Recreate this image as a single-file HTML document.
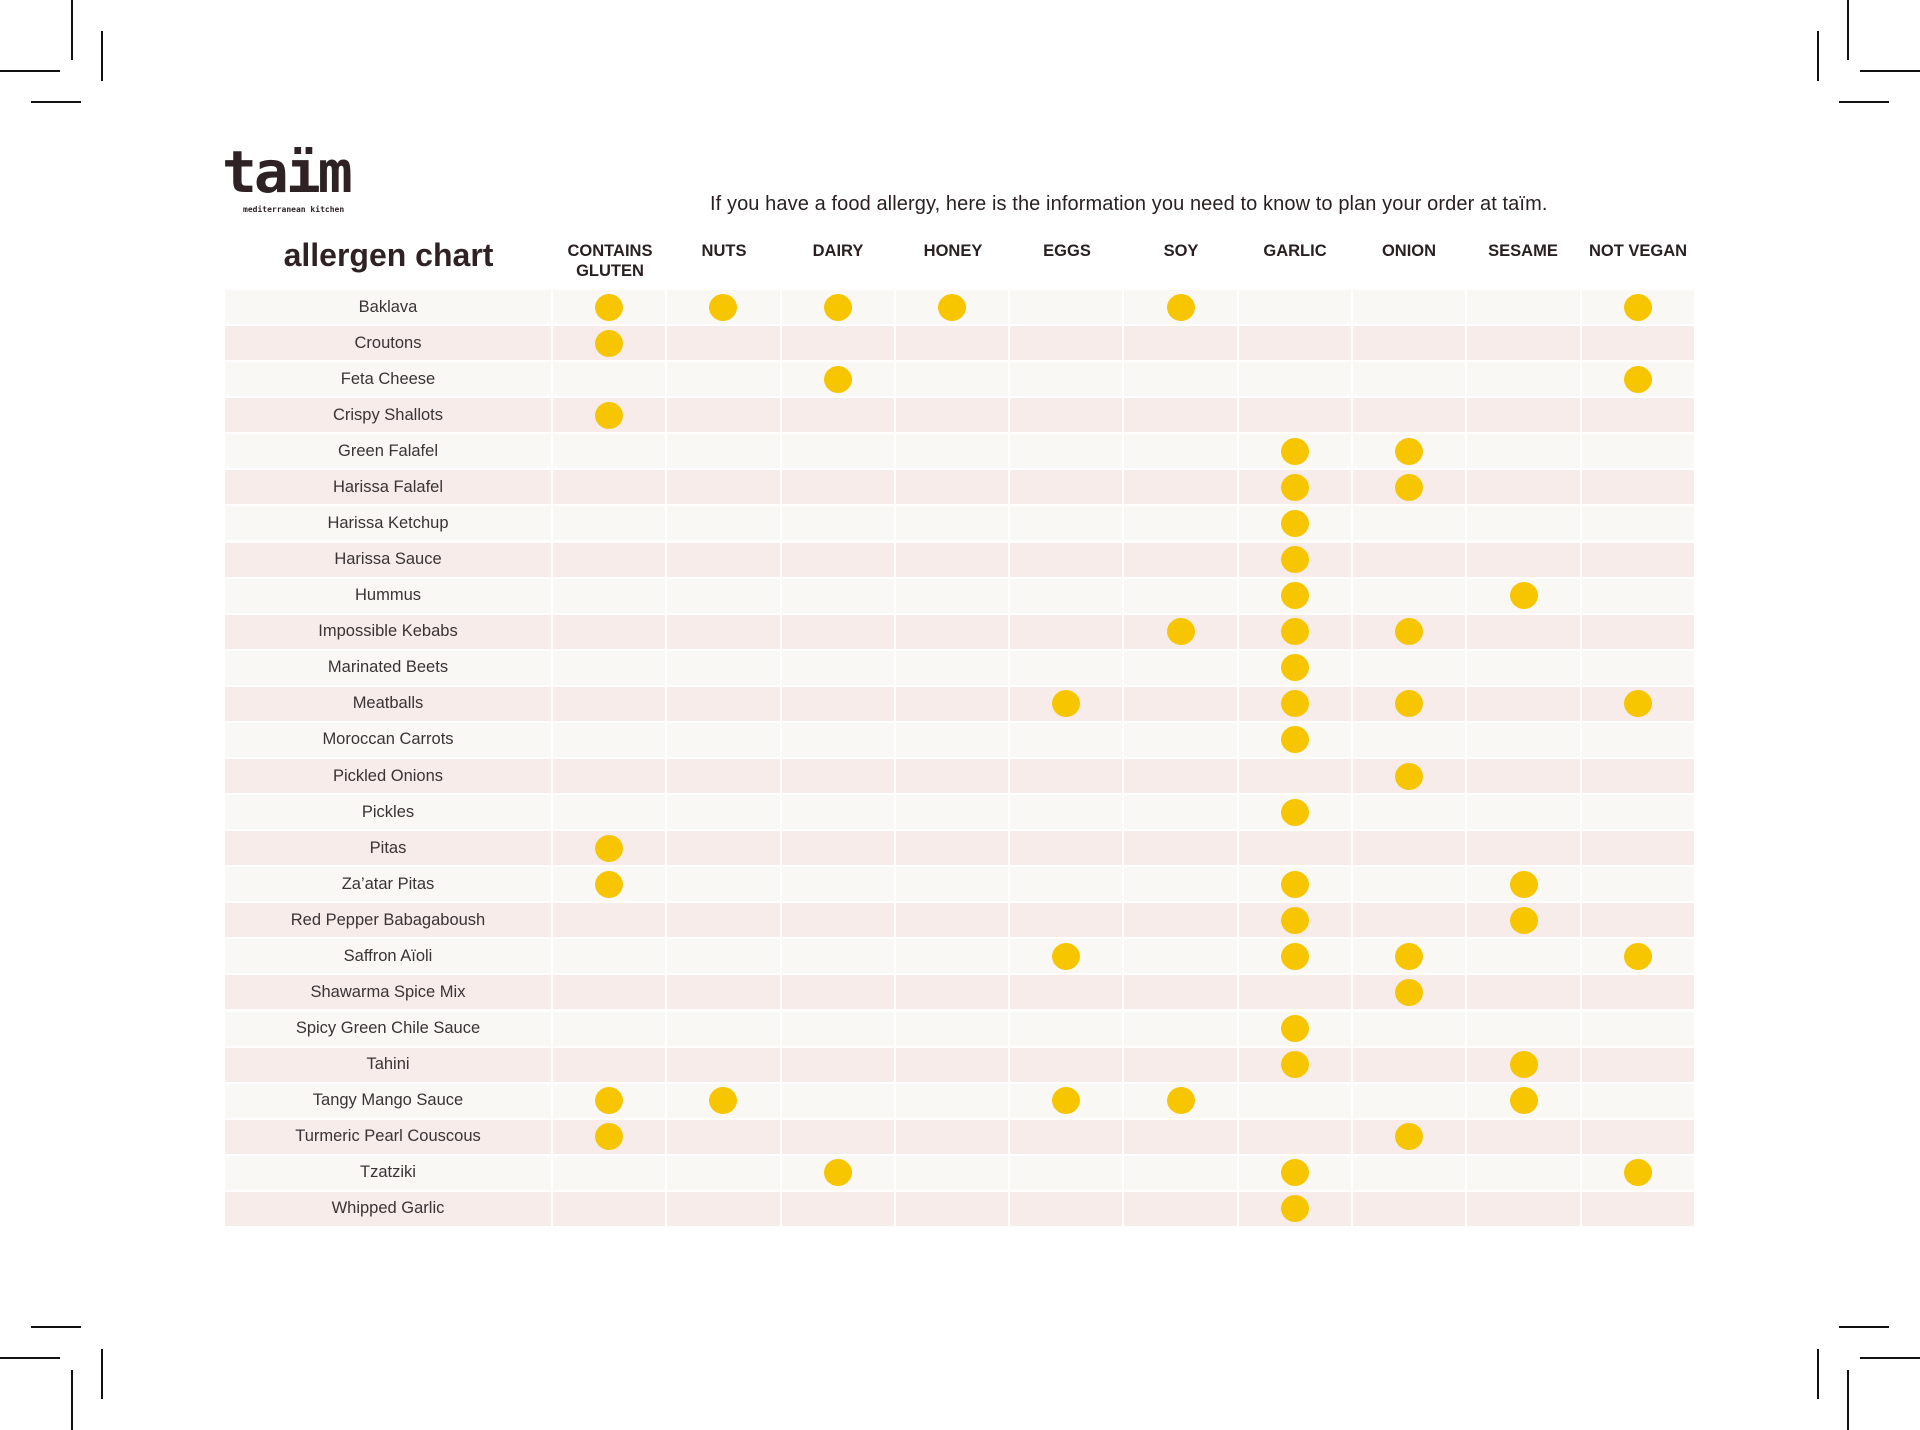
<!DOCTYPE html>
<html><head><meta charset="utf-8"><style>
html,body{margin:0;padding:0;background:#fff;}
body{width:1920px;height:1430px;position:relative;overflow:hidden;font-family:"Liberation Sans",sans-serif;color:#2a2022;}
.cm{position:absolute;background:#111;}
.logo{position:absolute;left:222px;top:143px;font-family:"DejaVu Sans Mono","Liberation Mono",monospace;font-weight:bold;font-size:58px;letter-spacing:-3px;color:#2e2224;line-height:1;}
.tag{position:absolute;left:243px;top:205px;font-family:"DejaVu Sans Mono",monospace;font-size:8px;color:#2e2224;font-weight:bold;}
.sub{position:absolute;left:710px;top:193px;font-size:20px;letter-spacing:0.1px;color:#2a2022;}
.title{position:absolute;left:225px;top:237px;width:327px;text-align:center;font-size:32px;font-weight:bold;color:#2e2224;}
.hd{position:absolute;top:241px;width:114px;text-align:center;font-size:16.5px;font-weight:bold;line-height:20px;color:#2a2022;}
.tbl{position:absolute;left:225px;top:290px;width:1469px;}
.r{display:grid;grid-template-columns:326px repeat(10,112.3px);column-gap:2px;height:34px;margin-bottom:2.08px;}
.r>*{background:#faf8f5;display:flex;align-items:center;justify-content:center;}
.r.p>*{background:#f7ecea;}
.r>span{font-size:16.5px;color:#3a3335;}
b{display:block;width:28px;height:27px;border-radius:50%;background:#f7c600;}
</style></head><body>
<div class="cm" style="left:71px;top:0;width:2px;height:60px"></div>
<div class="cm" style="left:0;top:70px;width:60px;height:2px"></div>
<div class="cm" style="left:101px;top:31px;width:2px;height:50px"></div>
<div class="cm" style="left:31px;top:101px;width:50px;height:2px"></div>
<div class="cm" style="left:1847px;top:0;width:2px;height:60px"></div>
<div class="cm" style="left:1860px;top:70px;width:60px;height:2px"></div>
<div class="cm" style="left:1817px;top:31px;width:2px;height:50px"></div>
<div class="cm" style="left:1839px;top:101px;width:50px;height:2px"></div>
<div class="cm" style="left:71px;top:1370px;width:2px;height:60px"></div>
<div class="cm" style="left:0;top:1357px;width:60px;height:2px"></div>
<div class="cm" style="left:101px;top:1349px;width:2px;height:50px"></div>
<div class="cm" style="left:31px;top:1326px;width:50px;height:2px"></div>
<div class="cm" style="left:1847px;top:1370px;width:2px;height:60px"></div>
<div class="cm" style="left:1860px;top:1357px;width:60px;height:2px"></div>
<div class="cm" style="left:1817px;top:1349px;width:2px;height:50px"></div>
<div class="cm" style="left:1839px;top:1326px;width:50px;height:2px"></div>

<div class="logo">taïm</div>
<div class="tag">mediterranean kitchen</div>
<div class="sub">If you have a food allergy, here is the information you need to know to plan your order at taïm.</div>
<div class="title">allergen chart</div>
<div class="hd" style="left:553px">CONTAINS<br>GLUTEN</div>
<div class="hd" style="left:667px">NUTS</div>
<div class="hd" style="left:781px">DAIRY</div>
<div class="hd" style="left:896px">HONEY</div>
<div class="hd" style="left:1010px">EGGS</div>
<div class="hd" style="left:1124px">SOY</div>
<div class="hd" style="left:1238px">GARLIC</div>
<div class="hd" style="left:1352px">ONION</div>
<div class="hd" style="left:1466px">SESAME</div>
<div class="hd" style="left:1580px;width:116px">NOT VEGAN</div>

<div class="tbl">
<div class="r"><span>Baklava</span><i><b></b></i><i><b></b></i><i><b></b></i><i><b></b></i><i></i><i><b></b></i><i></i><i></i><i></i><i><b></b></i></div>
<div class="r p"><span>Croutons</span><i><b></b></i><i></i><i></i><i></i><i></i><i></i><i></i><i></i><i></i><i></i></div>
<div class="r"><span>Feta Cheese</span><i></i><i></i><i><b></b></i><i></i><i></i><i></i><i></i><i></i><i></i><i><b></b></i></div>
<div class="r p"><span>Crispy Shallots</span><i><b></b></i><i></i><i></i><i></i><i></i><i></i><i></i><i></i><i></i><i></i></div>
<div class="r"><span>Green Falafel</span><i></i><i></i><i></i><i></i><i></i><i></i><i><b></b></i><i><b></b></i><i></i><i></i></div>
<div class="r p"><span>Harissa Falafel</span><i></i><i></i><i></i><i></i><i></i><i></i><i><b></b></i><i><b></b></i><i></i><i></i></div>
<div class="r"><span>Harissa Ketchup</span><i></i><i></i><i></i><i></i><i></i><i></i><i><b></b></i><i></i><i></i><i></i></div>
<div class="r p"><span>Harissa Sauce</span><i></i><i></i><i></i><i></i><i></i><i></i><i><b></b></i><i></i><i></i><i></i></div>
<div class="r"><span>Hummus</span><i></i><i></i><i></i><i></i><i></i><i></i><i><b></b></i><i></i><i><b></b></i><i></i></div>
<div class="r p"><span>Impossible Kebabs</span><i></i><i></i><i></i><i></i><i></i><i><b></b></i><i><b></b></i><i><b></b></i><i></i><i></i></div>
<div class="r"><span>Marinated Beets</span><i></i><i></i><i></i><i></i><i></i><i></i><i><b></b></i><i></i><i></i><i></i></div>
<div class="r p"><span>Meatballs</span><i></i><i></i><i></i><i></i><i><b></b></i><i></i><i><b></b></i><i><b></b></i><i></i><i><b></b></i></div>
<div class="r"><span>Moroccan Carrots</span><i></i><i></i><i></i><i></i><i></i><i></i><i><b></b></i><i></i><i></i><i></i></div>
<div class="r p"><span>Pickled Onions</span><i></i><i></i><i></i><i></i><i></i><i></i><i></i><i><b></b></i><i></i><i></i></div>
<div class="r"><span>Pickles</span><i></i><i></i><i></i><i></i><i></i><i></i><i><b></b></i><i></i><i></i><i></i></div>
<div class="r p"><span>Pitas</span><i><b></b></i><i></i><i></i><i></i><i></i><i></i><i></i><i></i><i></i><i></i></div>
<div class="r"><span>Za’atar Pitas</span><i><b></b></i><i></i><i></i><i></i><i></i><i></i><i><b></b></i><i></i><i><b></b></i><i></i></div>
<div class="r p"><span>Red Pepper Babagaboush</span><i></i><i></i><i></i><i></i><i></i><i></i><i><b></b></i><i></i><i><b></b></i><i></i></div>
<div class="r"><span>Saffron Aïoli</span><i></i><i></i><i></i><i></i><i><b></b></i><i></i><i><b></b></i><i><b></b></i><i></i><i><b></b></i></div>
<div class="r p"><span>Shawarma Spice Mix</span><i></i><i></i><i></i><i></i><i></i><i></i><i></i><i><b></b></i><i></i><i></i></div>
<div class="r"><span>Spicy Green Chile Sauce</span><i></i><i></i><i></i><i></i><i></i><i></i><i><b></b></i><i></i><i></i><i></i></div>
<div class="r p"><span>Tahini</span><i></i><i></i><i></i><i></i><i></i><i></i><i><b></b></i><i></i><i><b></b></i><i></i></div>
<div class="r"><span>Tangy Mango Sauce</span><i><b></b></i><i><b></b></i><i></i><i></i><i><b></b></i><i><b></b></i><i></i><i></i><i><b></b></i><i></i></div>
<div class="r p"><span>Turmeric Pearl Couscous</span><i><b></b></i><i></i><i></i><i></i><i></i><i></i><i></i><i><b></b></i><i></i><i></i></div>
<div class="r"><span>Tzatziki</span><i></i><i></i><i><b></b></i><i></i><i></i><i></i><i><b></b></i><i></i><i></i><i><b></b></i></div>
<div class="r p"><span>Whipped Garlic</span><i></i><i></i><i></i><i></i><i></i><i></i><i><b></b></i><i></i><i></i><i></i></div>
</div>
</body></html>
